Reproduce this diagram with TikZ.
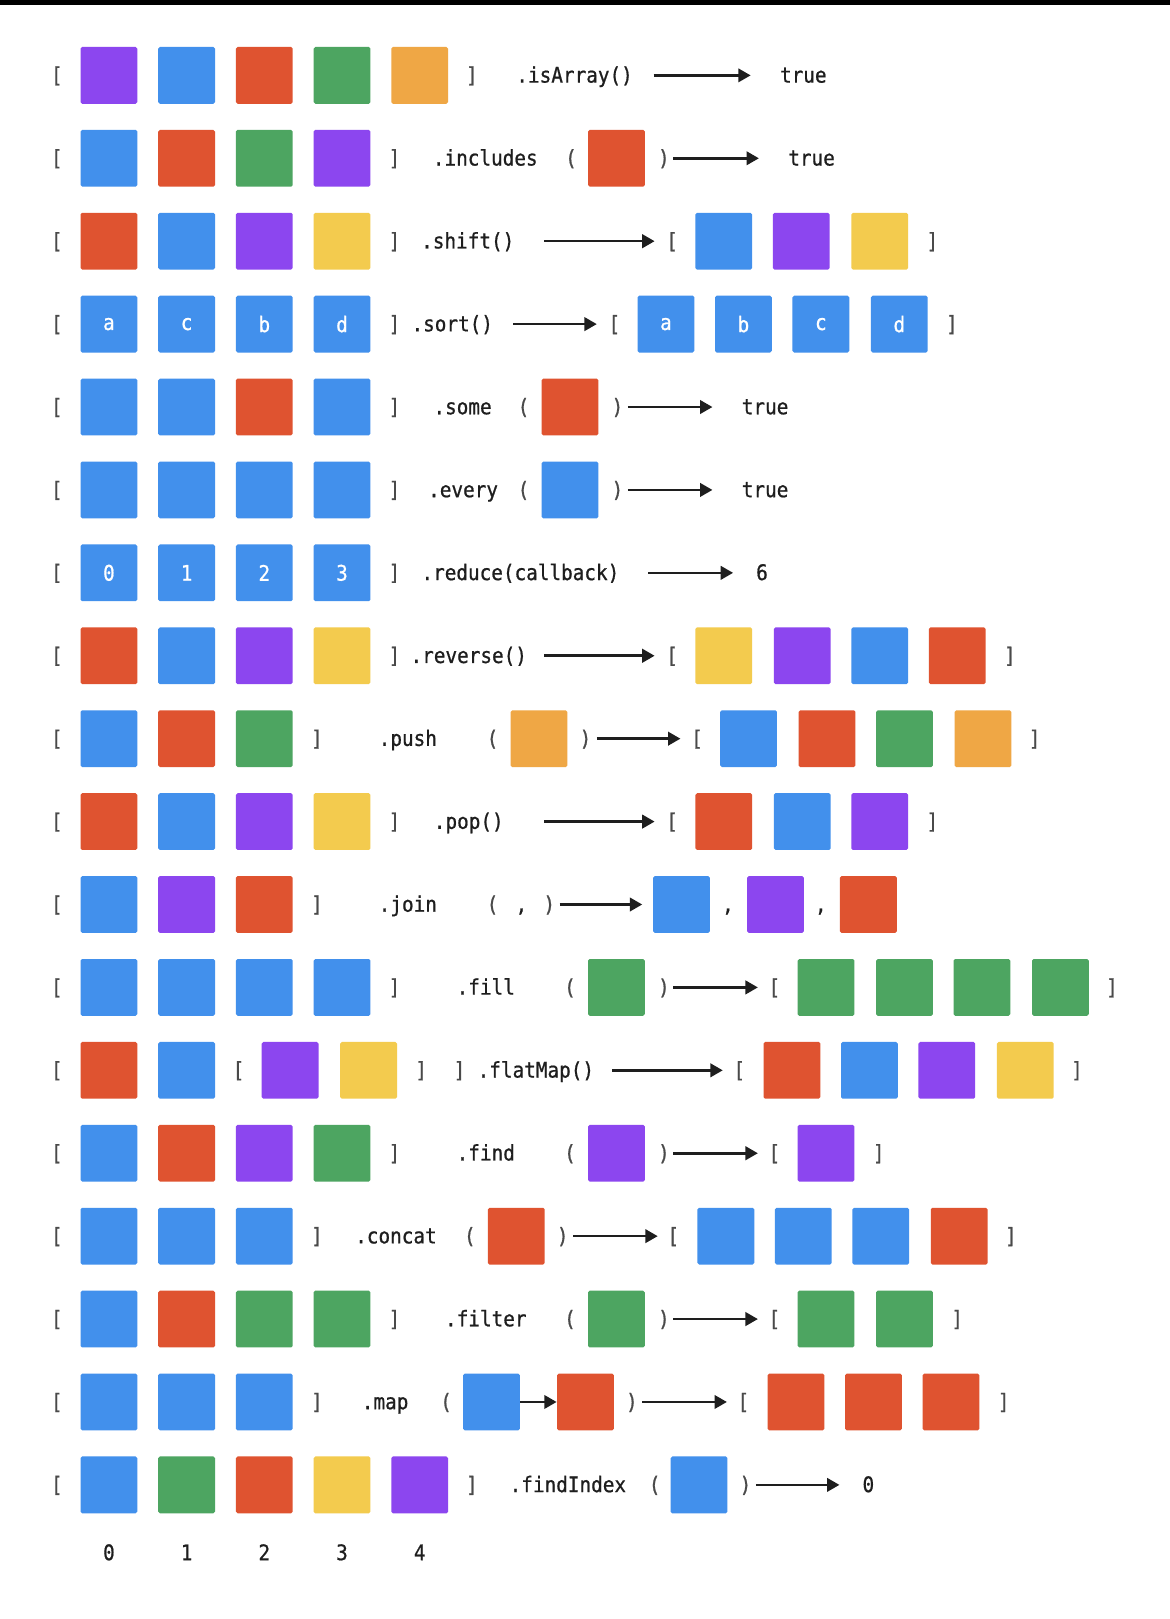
\documentclass[tikz,border=0pt]{standalone}
\usepackage{fontspec}
\newfontfamily\codefont{DejaVu Sans Mono}[FakeStretch=0.9,FakeBold=0.8]
\usetikzlibrary{arrows.meta}
\definecolor{cpur}{HTML}{8C46EF}
\definecolor{cblu}{HTML}{4290EC}
\definecolor{cred}{HTML}{DF5330}
\definecolor{cgrn}{HTML}{4DA561}
\definecolor{corg}{HTML}{EFA745}
\definecolor{cyel}{HTML}{F3CB4E}
\definecolor{ink}{HTML}{1E1E1E}
\definecolor{brkc}{HTML}{4A4A4A}
\newcommand\cf{\codefont\fontsize{10.4}{12}\selectfont}
% square
\newcommand\SQ[4]{\node[sq,fill=#4] (#1) at (#2,#3) {};}
\newcommand\SQT[5]{\node[sq,fill=#4] (#1) at (#2,#3) {#5};}
% text on baseline
\newcommand\TX[4]{\node[txt,anchor=base] (#1) at (#2,#3+7) {#4};}
\newcommand\BR[4]{\node[brk,anchor=base] (#1) at (#2,#3+7) {#4};}
% arrow between named coordinates
\newcommand\AR[4]{\coordinate (#1s) at (#2,#4); \coordinate (#1e) at (#3,#4); \draw[arr] (#1s) -- (#1e);}
% left array
\newcommand\LROW[3]{%
  \node[brk,anchor=base] (r#1ob) at (55,#2+7) {[};
  \foreach \c [count=\i] in {#3} {\node[sq,fill=\c] (r#1l\i) at ({105.5+75.25*(\i-1)},#2) {};}}
\newcommand\LROWT[3]{%
  \node[brk,anchor=base] (r#1ob) at (55,#2+7) {[};
  \foreach \t [count=\i] in {#3} {\node[sq,fill=cblu] (r#1l\i) at ({105.5+75.25*(\i-1)},#2) {\t};}}
\begin{document}
\begin{tikzpicture}[x=0.5pt,y=-0.5pt,
  sq/.style={minimum width=27.5pt,minimum height=27.5pt,rounded corners=0.8pt,inner sep=0pt,text=white,font=\cf},
  txt/.style={inner sep=0pt,text=ink,font=\cf},
  brk/.style={inner sep=0pt,text=brkc,font=\cf},
  arr/.style={draw=ink,line width=1.25pt,-{Triangle[length=6pt,width=6.5pt]}}]
\fill[white] (0,0) rectangle (1133,1568);
\useasboundingbox (0,0) rectangle (1133,1568);
\fill[black] (0,0) rectangle (1133,5);

% Row 1 isArray
\LROW{1}{73}{cpur,cblu,cred,cgrn,corg}
\BR{r1cb}{457}{73}{]}
\TX{r1m}{556.5}{73}{.isArray()}
\AR{r1a}{633}{727}{73}
\TX{r1res}{778}{73}{true}

% Row 2 includes
\LROW{2}{153.3}{cblu,cred,cgrn,cpur}
\BR{r2cb}{382}{153.3}{]}
\TX{r2m}{470}{153.3}{.includes}
\BR{r2op}{553}{153.3}{(}
\SQ{r2arg}{597}{153.3}{cred}
\BR{r2cp}{643}{153.3}{)}
\AR{r2a}{652}{735}{153.3}
\TX{r2res}{786}{153.3}{true}

% Row 3 shift
\LROW{3}{233.6}{cred,cblu,cpur,cyel}
\BR{r3cb}{382}{233.6}{]}
\TX{r3m}{453}{233.6}{.shift()}
\AR{r3a}{527}{634}{233.6}
\BR{r3rob}{651}{233.6}{[}
\SQ{r3o1}{701}{233.6}{cblu}
\SQ{r3o2}{776}{233.6}{cpur}
\SQ{r3o3}{852}{233.6}{cyel}
\BR{r3rcb}{903}{233.6}{]}

% Row 4 sort
\LROWT{4}{313.9}{a,c,b,d}
\BR{r4cb}{382}{313.9}{]}
\TX{r4m}{438}{313.9}{.sort()}
\AR{r4a}{497}{578}{313.9}
\BR{r4rob}{595}{313.9}{[}
\SQT{r4o1}{645}{313.9}{cblu}{a}
\SQT{r4o2}{720}{313.9}{cblu}{b}
\SQT{r4o3}{795}{313.9}{cblu}{c}
\SQT{r4o4}{871}{313.9}{cblu}{d}
\BR{r4rcb}{922}{313.9}{]}

% Row 5 some
\LROW{5}{394.2}{cblu,cblu,cred,cblu}
\BR{r5cb}{382}{394.2}{]}
\TX{r5m}{448}{394.2}{.some}
\BR{r5op}{507}{394.2}{(}
\SQ{r5arg}{552}{394.2}{cred}
\BR{r5cp}{598}{394.2}{)}
\AR{r5a}{608}{690}{394.2}
\TX{r5res}{741}{394.2}{true}

% Row 6 every
\LROW{6}{474.5}{cblu,cblu,cblu,cblu}
\BR{r6cb}{382}{474.5}{]}
\TX{r6m}{448.5}{474.5}{.every}
\BR{r6op}{507}{474.5}{(}
\SQ{r6arg}{552}{474.5}{cblu}
\BR{r6cp}{598}{474.5}{)}
\AR{r6a}{608}{690}{474.5}
\TX{r6res}{741}{474.5}{true}

% Row 7 reduce
\LROWT{7}{554.8}{0,1,2,3}
\BR{r7cb}{382}{554.8}{]}
\TX{r7m}{504}{554.8}{.reduce(callback)}
\AR{r7a}{628}{710}{554.8}
\TX{r7res}{738}{554.8}{6}

% Row 8 reverse
\LROW{8}{635.1}{cred,cblu,cpur,cyel}
\BR{r8cb}{382}{635.1}{]}
\TX{r8m}{454}{635.1}{.reverse()}
\AR{r8a}{527}{634}{635.1}
\BR{r8rob}{651}{635.1}{[}
\SQ{r8o1}{701}{635.1}{cyel}
\SQ{r8o2}{777}{635.1}{cpur}
\SQ{r8o3}{852}{635.1}{cblu}
\SQ{r8o4}{927}{635.1}{cred}
\BR{r8rcb}{978}{635.1}{]}

% Row 9 push
\LROW{9}{715.4}{cblu,cred,cgrn}
\BR{r9cb}{307}{715.4}{]}
\TX{r9m}{395}{715.4}{.push}
\BR{r9op}{477}{715.4}{(}
\SQ{r9arg}{522}{715.4}{corg}
\BR{r9cp}{567}{715.4}{)}
\AR{r9a}{578}{659}{715.4}
\BR{r9rob}{675}{715.4}{[}
\SQ{r9o1}{725}{715.4}{cblu}
\SQ{r9o2}{801}{715.4}{cred}
\SQ{r9o3}{876}{715.4}{cgrn}
\SQ{r9o4}{952}{715.4}{corg}
\BR{r9rcb}{1002}{715.4}{]}

% Row 10 pop
\LROW{10}{795.7}{cred,cblu,cpur,cyel}
\BR{r10cb}{382}{795.7}{]}
\TX{r10m}{454}{795.7}{.pop()}
\AR{r10a}{527}{634}{795.7}
\BR{r10rob}{651}{795.7}{[}
\SQ{r10o1}{701}{795.7}{cred}
\SQ{r10o2}{777}{795.7}{cblu}
\SQ{r10o3}{852}{795.7}{cpur}
\BR{r10rcb}{903}{795.7}{]}

% Row 11 join
\LROW{11}{876}{cblu,cpur,cred}
\BR{r11cb}{307}{876}{]}
\TX{r11m}{395}{876}{.join}
\BR{r11op}{477}{876}{(}
\TX{r11c}{505}{876}{,}
\BR{r11cp}{532}{876}{)}
\AR{r11a}{542}{622}{876}
\SQ{r11o1}{660}{876}{cblu}
\TX{r11k1}{705}{876}{,}
\SQ{r11o2}{751}{876}{cpur}
\TX{r11k2}{795}{876}{,}
\SQ{r11o3}{841}{876}{cred}

% Row 12 fill
\LROW{12}{956.3}{cblu,cblu,cblu,cblu}
\BR{r12cb}{382}{956.3}{]}
\TX{r12m}{470.5}{956.3}{.fill}
\BR{r12op}{552}{956.3}{(}
\SQ{r12arg}{597}{956.3}{cgrn}
\BR{r12cp}{643}{956.3}{)}
\AR{r12a}{652}{734}{956.3}
\BR{r12rob}{750}{956.3}{[}
\SQ{r12o1}{800}{956.3}{cgrn}
\SQ{r12o2}{876}{956.3}{cgrn}
\SQ{r12o3}{951}{956.3}{cgrn}
\SQ{r12o4}{1027}{956.3}{cgrn}
\BR{r12rcb}{1077}{956.3}{]}

% Row 13 flatMap
\BR{r13ob}{55}{1036.6}{[}
\SQ{r13l1}{105.5}{1036.6}{cred}
\SQ{r13l2}{180.75}{1036.6}{cblu}
\BR{r13iob}{231}{1036.6}{[}
\SQ{r13l3}{281}{1036.6}{cpur}
\SQ{r13l4}{357}{1036.6}{cyel}
\BR{r13icb}{408}{1036.6}{]}
\BR{r13cb}{445}{1036.6}{]}
\TX{r13m}{519}{1036.6}{.flatMap()}
\AR{r13a}{593}{700}{1036.6}
\BR{r13rob}{716}{1036.6}{[}
\SQ{r13o1}{767}{1036.6}{cred}
\SQ{r13o2}{842}{1036.6}{cblu}
\SQ{r13o3}{917}{1036.6}{cpur}
\SQ{r13o4}{993}{1036.6}{cyel}
\BR{r13rcb}{1043}{1036.6}{]}

% Row 14 find
\LROW{14}{1116.9}{cblu,cred,cpur,cgrn}
\BR{r14cb}{382}{1116.9}{]}
\TX{r14m}{470.5}{1116.9}{.find}
\BR{r14op}{552}{1116.9}{(}
\SQ{r14arg}{597}{1116.9}{cpur}
\BR{r14cp}{643}{1116.9}{)}
\AR{r14a}{652}{734}{1116.9}
\BR{r14rob}{750}{1116.9}{[}
\SQ{r14o1}{800}{1116.9}{cpur}
\BR{r14rcb}{851}{1116.9}{]}

% Row 15 concat
\LROW{15}{1197.2}{cblu,cblu,cblu}
\BR{r15cb}{307}{1197.2}{]}
\TX{r15m}{383.5}{1197.2}{.concat}
\BR{r15op}{455}{1197.2}{(}
\SQ{r15arg}{500}{1197.2}{cred}
\BR{r15cp}{545}{1197.2}{)}
\AR{r15a}{555}{637}{1197.2}
\BR{r15rob}{652}{1197.2}{[}
\SQ{r15o1}{703}{1197.2}{cblu}
\SQ{r15o2}{778}{1197.2}{cblu}
\SQ{r15o3}{853}{1197.2}{cblu}
\SQ{r15o4}{929}{1197.2}{cred}
\BR{r15rcb}{979}{1197.2}{]}

% Row 16 filter
\LROW{16}{1277.5}{cblu,cred,cgrn,cgrn}
\BR{r16cb}{382}{1277.5}{]}
\TX{r16m}{470.5}{1277.5}{.filter}
\BR{r16op}{552}{1277.5}{(}
\SQ{r16arg}{597}{1277.5}{cgrn}
\BR{r16cp}{643}{1277.5}{)}
\AR{r16a}{652}{734}{1277.5}
\BR{r16rob}{750}{1277.5}{[}
\SQ{r16o1}{800}{1277.5}{cgrn}
\SQ{r16o2}{876}{1277.5}{cgrn}
\BR{r16rcb}{927}{1277.5}{]}

% Row 17 map
\LROW{17}{1357.8}{cblu,cblu,cblu}
\BR{r17cb}{307}{1357.8}{]}
\TX{r17m}{373}{1357.8}{.map}
\BR{r17op}{432}{1357.8}{(}
\SQ{r17p1}{476}{1357.8}{cblu}
\SQ{r17p2}{567}{1357.8}{cred}
\draw[arr] (r17p1.east) -- (r17p2.west);
\BR{r17cp}{612}{1357.8}{)}
\AR{r17a}{622}{704}{1357.8}
\BR{r17rob}{720}{1357.8}{[}
\SQ{r17o1}{771}{1357.8}{cred}
\SQ{r17o2}{846}{1357.8}{cred}
\SQ{r17o3}{921}{1357.8}{cred}
\BR{r17rcb}{972}{1357.8}{]}

% Row 18 findIndex
\LROW{18}{1438.1}{cblu,cgrn,cred,cyel,cpur}
\BR{r18cb}{457}{1438.1}{]}
\TX{r18m}{550}{1438.1}{.findIndex}
\BR{r18op}{634}{1438.1}{(}
\SQ{r18arg}{677}{1438.1}{cblu}
\BR{r18cp}{722}{1438.1}{)}
\AR{r18a}{732}{813}{1438.1}
\TX{r18res}{841}{1438.1}{0}

% index labels
\foreach \i [count=\k] in {0,1,2,3,4} {\node[txt,anchor=base] (idx\i) at ({105.5+75.25*(\k-1)},1511) {\i};}
\end{tikzpicture}
\end{document}
